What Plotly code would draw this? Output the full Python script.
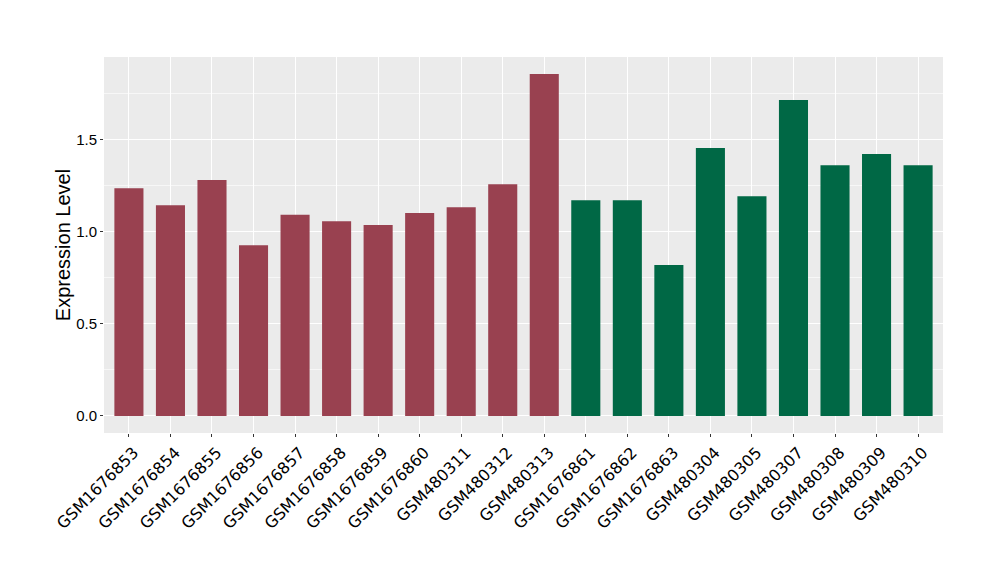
import plotly.graph_objects as go

samples = ["GSM1676853", "GSM1676854", "GSM1676855", "GSM1676856", "GSM1676857",
           "GSM1676858", "GSM1676859", "GSM1676860", "GSM480311", "GSM480312",
           "GSM480313", "GSM1676861", "GSM1676862", "GSM1676863", "GSM480304",
           "GSM480305", "GSM480307", "GSM480308", "GSM480309", "GSM480310"]
values = [1.235, 1.143, 1.279, 0.926, 1.091, 1.056, 1.035, 1.100, 1.132, 1.257,
          1.854, 1.170, 1.170, 0.818, 1.453, 1.192, 1.713, 1.360, 1.420, 1.360]
groups = ["A"] * 11 + ["B"] * 9
group_colors = {"A": "#994150", "B": "#006845"}

colors = [group_colors[g] for g in groups]
ymax = max(values)

fig = go.Figure(go.Bar(x=samples, y=values, marker=dict(color=colors, line=dict(width=0)),
                       width=0.7, showlegend=False))

fig.update_layout(
    width=992, height=572,
    margin=dict(l=96, r=57, t=49, b=147),
    paper_bgcolor="white",
    plot_bgcolor="#EBEBEB",
    font=dict(family="Liberation Sans, Arial, sans-serif", color="black"),
    xaxis=dict(
        range=[-0.6, len(samples) - 0.4],
        tickangle=-45,
        tickfont=dict(size=16, family="DejaVu Sans", color="black"),
        ticklabelshift=5,
        showgrid=True, gridcolor="white", gridwidth=1.1,
        ticks="outside", ticklen=3, tickcolor="#333333", tickwidth=1,
        zeroline=False, showline=False,
    ),
    yaxis=dict(
        range=[-0.05 * ymax, 1.05 * ymax],
        tickvals=[0, 0.5, 1.0, 1.5],
        ticktext=["0.0", "0.5", "1.0", "1.5"],
        tickfont=dict(size=15, color="black"),
        showgrid=True, gridcolor="white", gridwidth=1.1,
        minor=dict(tickvals=[0.25, 0.75, 1.25, 1.75], showgrid=True,
                   gridcolor="#F7F7F7", gridwidth=0.6, ticks=""),
        ticks="outside", ticklen=3, tickcolor="#333333", tickwidth=1,
        zeroline=False, showline=False,
        title=dict(text="Expression Level", font=dict(size=20, color="black"), standoff=0),
    ),
)

fig.write_html("out.html")
